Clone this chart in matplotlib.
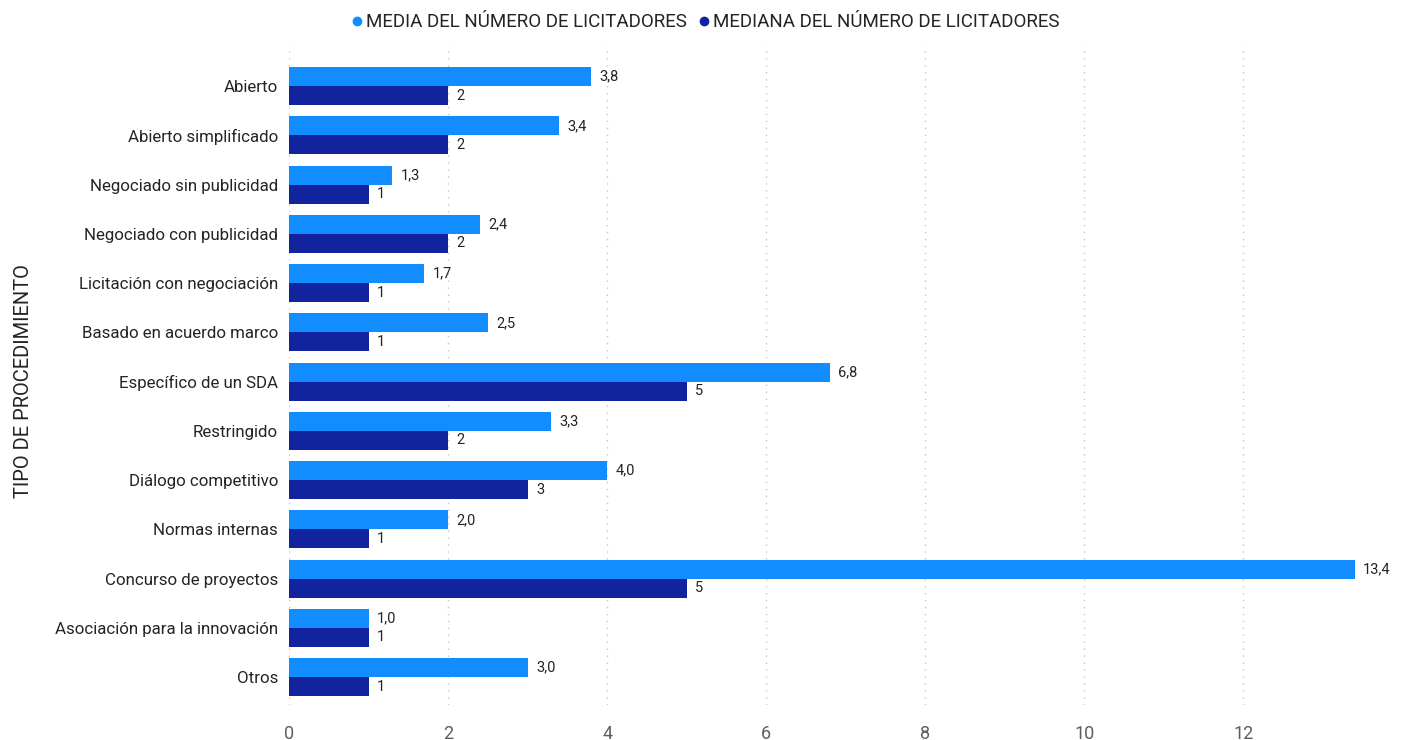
import numpy as np
import matplotlib.pyplot as plt
from matplotlib.lines import Line2D

plt.rcParams['font.family'] = ['Roboto', 'DejaVu Sans']

categorias = ['Abierto', 'Abierto simplificado', 'Negociado sin publicidad',
              'Negociado con publicidad', 'Licitación con negociación',
              'Basado en acuerdo marco', 'Específico de un SDA', 'Restringido',
              'Diálogo competitivo', 'Normas internas', 'Concurso de proyectos',
              'Asociación para la innovación', 'Otros']
media = [3.8, 3.4, 1.3, 2.4, 1.7, 2.5, 6.8, 3.3, 4.0, 2.0, 13.4, 1.0, 3.0]
mediana = [2, 2, 1, 2, 1, 1, 5, 2, 3, 1, 5, 1, 1]
xticks = [0, 2, 4, 6, 8, 10, 12]

c_media = '#118DFF'
c_mediana = '#12239E'

fig = plt.figure(figsize=(14.1, 7.4), dpi=100)
ax = fig.add_axes([0.205, 0.047, 0.784, 0.892])

y = np.arange(len(categorias))
h = 0.385
ax.barh(y - h / 2, media, height=h, color=c_media, zorder=2)
ax.barh(y + h / 2, mediana, height=h, color=c_mediana, zorder=2)

for yi, v in zip(y, media):
    ax.annotate(f'{v:.1f}'.replace('.', ','), (v, yi - h / 2), xytext=(6, 0),
                textcoords='offset points', va='center', ha='left',
                fontsize=10.5, color='#252423')
for yi, v in zip(y, mediana):
    ax.annotate(f'{v}', (v, yi + h / 2), xytext=(6, 0),
                textcoords='offset points', va='center', ha='left',
                fontsize=10.5, color='#252423')

ax.set_ylim(12.57, -0.83)
ax.set_xlim(0, 13.9)
ax.set_yticks(y)
ax.set_yticklabels(categorias, fontsize=12.2, color='#252423')
ax.set_xticks(xticks)
ax.set_xticklabels([str(t) for t in xticks], fontsize=13, color='#605E5C')
ax.tick_params(length=0, pad=8)
ax.tick_params(axis='x', pad=14)
ax.grid(axis='x', linestyle=(0, (1, 4)), color='#C8C6C4', linewidth=1, zorder=0)
for s in ax.spines.values():
    s.set_visible(False)

fig.text(0.010, 0.485, 'TIPO DE PROCEDIMIENTO', rotation=90, va='center', ha='left',
         fontsize=14.5, color='#252423')

handles = [Line2D([], [], marker='o', linestyle='', color=c_media, markersize=6),
           Line2D([], [], marker='o', linestyle='', color=c_mediana, markersize=6)]
fig.legend(handles, ['MEDIA DEL NÚMERO DE LICITADORES', 'MEDIANA DEL NÚMERO DE LICITADORES'],
           loc='center', bbox_to_anchor=(0.499, 0.97), ncol=2, frameon=False,
           fontsize=13.5, handletextpad=0.0, columnspacing=0.4, handlelength=1.0,
           labelcolor='#252423')

fig.savefig('out.png', dpi=100)
